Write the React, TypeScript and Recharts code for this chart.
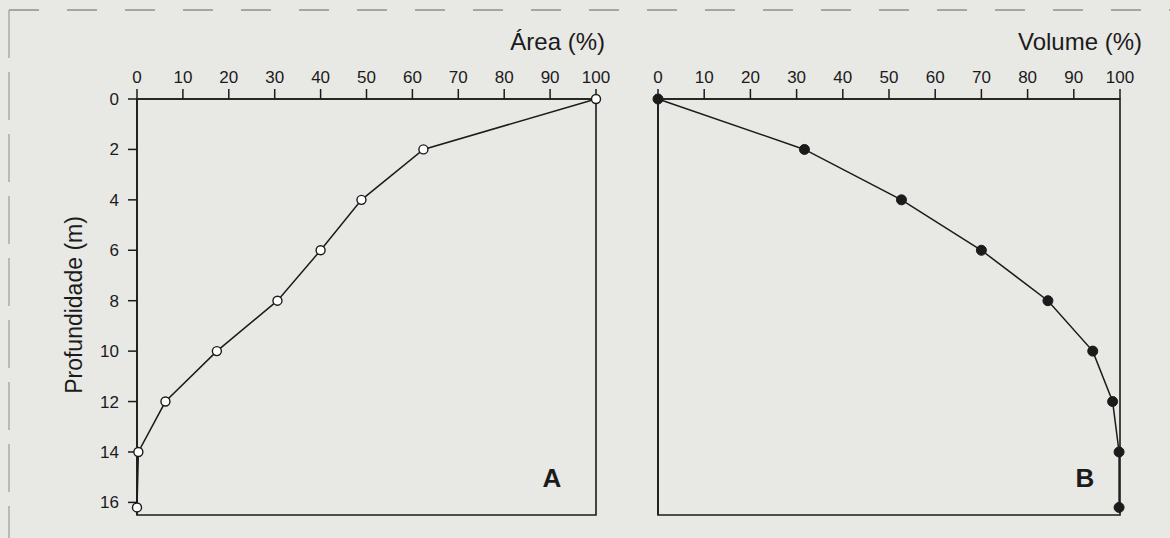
import { Label, ReferenceArea, Scatter, ScatterChart, XAxis, YAxis } from 'recharts';

// depth (m) of each sample, shared by both panels
const depths = [0, 2, 4, 6, 8, 10, 12, 14, 16.2];
const areaPct = [100, 62.4, 48.9, 40.0, 30.6, 17.4, 6.2, 0.3, 0];
const volumePct = [0, 31.7, 52.7, 70.0, 84.4, 94.1, 98.4, 99.8, 99.8];

const pctTicks = [0, 10, 20, 30, 40, 50, 60, 70, 80, 90, 100];
const depthTicks = [0, 2, 4, 6, 8, 10, 12, 14, 16];

const FONT = '"Liberation Sans", Arial, sans-serif';
const INK = '#1b1b1b';
const BG = '#e8e8e5';

const areaData = depths.map((d, i) => ({ depth: d, v: areaPct[i] }));
const volumeData = depths.map((d, i) => ({ depth: d, v: volumePct[i] }));

function OpenDot(props: any) {
  const { cx, cy } = props;
  return <circle cx={cx} cy={cy} r={4.5} fill="#fff" stroke={INK} strokeWidth={1.4} />;
}

function FilledDot(props: any) {
  const { cx, cy } = props;
  return <circle cx={cx} cy={cy} r={5} fill={INK} stroke={INK} strokeWidth={1} />;
}

// top axis labels: baseline a few px above the tick end
function TopTick(props: any) {
  const { x, y, payload } = props;
  return (
    <text x={x} y={y - 2} textAnchor="middle" fontSize={17} fontFamily={FONT} fill={INK}>
      {payload.value}
    </text>
  );
}

function LeftTick(props: any) {
  const { x, y, payload } = props;
  return (
    <text x={x} y={y + 6} textAnchor="end" fontSize={17} fontFamily={FONT} fill={INK}>
      {payload.value}
    </text>
  );
}

interface PanelProps {
  data: { depth: number; v: number }[];
  width: number;
  margin: { top: number; right: number; bottom: number; left: number };
  yWidth: number;
  showDepthLabels: boolean;
  title: string;
  titleX: number;
  letter: string;
  letterX: number;
  filled: boolean;
}

function Panel({ data, width, margin, yWidth, showDepthLabels, title, titleX, letter, letterX, filled }: PanelProps) {
  return (
    <ScatterChart width={width} height={538} margin={margin}>
      <XAxis
        type="number"
        dataKey="v"
        orientation="top"
        domain={[0, 100]}
        ticks={pctTicks}
        interval={0}
        height={30}
        tickSize={10}
        tickMargin={4}
        tick={TopTick}
        axisLine={{ stroke: INK, strokeWidth: 1.6 }}
        tickLine={{ stroke: INK, strokeWidth: 1.5 }}
      >
        <Label
          content={() => (
            <text x={titleX} y={50} textAnchor="end" fontSize={24} fontFamily={FONT} fill={INK}>
              {title}
            </text>
          )}
        />
      </XAxis>
      <YAxis
        type="number"
        dataKey="depth"
        reversed
        domain={[0, 16.5]}
        ticks={depthTicks}
        interval={0}
        width={yWidth}
        tickSize={9}
        tickMargin={9}
        tick={showDepthLabels ? LeftTick : false}
        axisLine={{ stroke: INK, strokeWidth: 1.6 }}
        tickLine={{ stroke: INK, strokeWidth: 1.5 }}
      >
        {showDepthLabels && (
          <Label
            content={() => (
              <text
                x={82}
                y={305}
                transform="rotate(-90 82 305)"
                textAnchor="middle"
                fontSize={23}
                fontFamily={FONT}
                fill={INK}
              >
                Profundidade (m)
              </text>
            )}
          />
        )}
      </YAxis>
      <ReferenceArea x1={0} x2={100} y1={0} y2={16.5} fill="none" stroke={INK} strokeWidth={1.6}>
        <Label
          content={() => (
            <text x={letterX} y={487} textAnchor="middle" fontSize={26} fontWeight="bold" fontFamily={FONT} fill={INK}>
              {letter}
            </text>
          )}
        />
      </ReferenceArea>
      <Scatter
        data={data}
        line={{ stroke: INK, strokeWidth: 1.5 }}
        lineType="joint"
        shape={filled ? FilledDot : OpenDot}
        isAnimationActive={false}
      />
    </ScatterChart>
  );
}

export default function App() {
  return (
    <div
      style={{
        position: 'absolute',
        left: 0,
        top: 0,
        width: 1170,
        height: 538,
        background: BG,
        overflow: 'hidden',
        fontFamily: FONT,
      }}
    >
      <svg width={1170} height={538} style={{ position: 'absolute', left: 0, top: 0 }}>
        <line x1={9} y1={10} x2={1170} y2={10} stroke="#8f8f8c" strokeWidth={1.5} strokeDasharray="30 28" />
        <line x1={9} y1={10} x2={9} y2={538} stroke="#9a9a97" strokeWidth={1.2} strokeDasharray="48 14" />
      </svg>
      <div style={{ position: 'absolute', left: 0, top: 0 }}>
        <Panel
          data={areaData}
          width={620}
          margin={{ top: 69, right: 24, bottom: 23, left: 92 }}
          yWidth={45}
          showDepthLabels
          title="Área (%)"
          titleX={605}
          letter="A"
          letterX={552}
          filled={false}
        />
      </div>
      <div style={{ position: 'absolute', left: 620, top: 0 }}>
        <Panel
          data={volumeData}
          width={550}
          margin={{ top: 69, right: 50, bottom: 23, left: 28 }}
          yWidth={10}
          showDepthLabels={false}
          title="Volume (%)"
          titleX={522}
          letter="B"
          letterX={465}
          filled
        />
      </div>
    </div>
  );
}
